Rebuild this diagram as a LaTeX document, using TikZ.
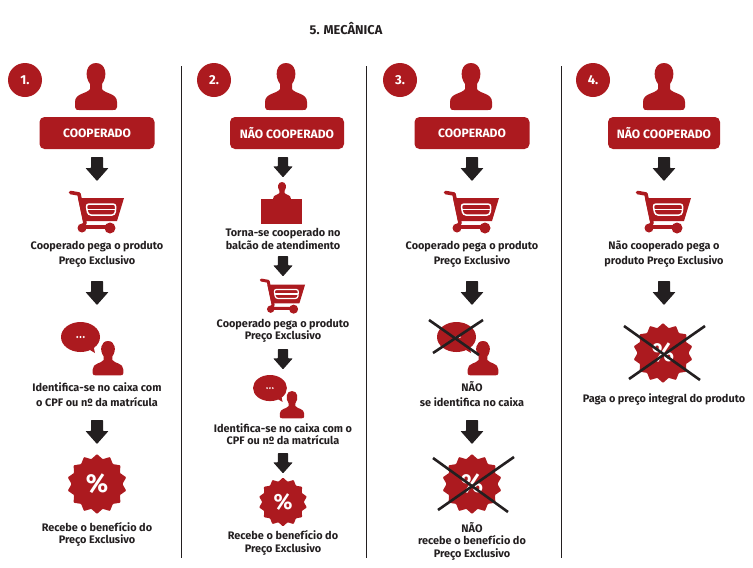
\documentclass[tikz,border=0pt]{standalone}
\usepackage{fontspec}
\setmainfont{Fira Sans}
\usetikzlibrary{shapes.geometric}
\definecolor{marsala}{HTML}{AC1A1F}
\definecolor{quaseblack}{HTML}{231F20}
\tikzset{
    legenda/.style={align=center, text=quaseblack, inner sep=0pt, font=\bfseries\fontsize{10.9}{15}\selectfont},
    legendajusta/.style={legenda, font=\bfseries\fontsize{10.9}{12.5}\selectfont},
    numero/.style={circle, fill=marsala, minimum size=34pt, inner sep=0pt, text=white, font=\bfseries\fontsize{13}{15}\selectfont},
    faixa/.style={rectangle, rounded corners=5pt, fill=marsala, text=white, minimum height=32pt, inner sep=0pt, font=\bfseries\fontsize{12.1}{14}\selectfont},
    selo/.style={star, star points=14, star point ratio=1.18, fill=marsala, text=white, inner sep=0pt, rounded corners=0.8pt, font=\bfseries\fontsize{#1}{#1}\selectfont},
    xis/.style={draw=quaseblack, line width=2.6pt},
    divisoria/.style={draw=quaseblack, line width=0.8pt},
    pics/pessoa/.style={code={
        \begin{scope}[scale=#1]
            \fill[marsala] (-6,21) .. controls (-12,13) and (-10,0) .. (0,0)
                .. controls (10,0) and (12,13) .. (6,21) -- (6,26)
                .. controls (9,31) and (21,30) .. (21,39) -- (21,44)
                .. controls (21,47) and (19,47) .. (17,47) -- (-17,47)
                .. controls (-19,47) and (-21,47) .. (-21,44) -- (-21,39)
                .. controls (-21,30) and (-9,31) .. (-6,26) -- cycle;
        \end{scope}
    }},
    pics/seta/.style={code={
        \begin{scope}[scale=#1]
            \fill[quaseblack, rounded corners=0.6pt] (-6,0) -- (6,0) -- (6,11) -- (11.5,11) -- (0,24) -- (-11.5,11) -- (-6,11) -- cycle;
        \end{scope}
    }},
    pics/carrinho/.style={code={
        \begin{scope}[scale=#1]
            \draw[marsala, line width=#1*3.6pt, line cap=round, line join=round] (1.5,2.5) -- (10,4) -- (16,33) -- (13,37) -- (41,37);
            \fill[marsala] (9,8) -- (55,8) -- (48,31) -- (14,31) -- cycle;
            \fill[marsala] (13,38) circle (4.5);
            \fill[marsala] (41,38) circle (5.5);
            \draw[white, line width=#1*1.5pt, rounded corners=#1*3pt] (17,14) -- (47,14) -- (46,25) -- (19,25) -- cycle;
            \draw[white, line width=#1*1.5pt] (18,19.5) -- (46,19.5);
        \end{scope}
    }},
    pics/balao/.style={code={
        \begin{scope}[scale=#1]
            \fill[marsala] (19.5,15) ellipse (19.5 and 15);
            \fill[marsala] (24,25) -- (34,31) -- (32,22) -- cycle;
            \foreach \ponto in {16.2,19.5,22.8} {
                \fill[white] (\ponto,15) circle (1.1);
            }
        \end{scope}
    }},
    pics/balcao/.style={code={
        \fill[marsala] (-21,17) rectangle (20,42);
        \pic at (0,0) {pessoa=0.42};
    }},
}
\begin{document}
\begin{tikzpicture}[x=1pt, y=-1pt]
    \useasboundingbox (0,0) rectangle (753,568);

    \node[font=\bfseries\fontsize{12.8}{15}\selectfont, text=quaseblack] (titulo) at (346,29) {5. MECÂNICA};

    \draw[divisoria] (181,66) -- (181,558);
    \draw[divisoria] (366,66) -- (366,558);
    \draw[divisoria] (561,66) -- (561,558);

    % coluna 1
    \node[numero] (num1) at (25,80) {1.};
    \pic at (96,63) {pessoa=1};
    \node[faixa, minimum width=115pt] (tipo1) at (97,133) {COOPERADO};
    \pic at (97,157) {seta=1};
    \pic at (69,190) {carrinho=1};
    \node[legenda] (pega1) at (97,254.5) {Cooperado pega o produto\\Preço Exclusivo};
    \pic at (97,281) {seta=1};
    \pic at (61,322) {balao=1};
    \pic at (108,341) {pessoa=0.73};
    \node[legenda] (caixa1) at (97,394.5) {Identifica-se no caixa com\\o CPF ou nº da matrícula};
    \pic at (97,420) {seta=1};
    \node[selo=26, minimum size=60pt] (selo1) at (97,484) {\%};
    \node[legendajusta] (recebe1) at (97,534.5) {Recebe o benefício do\\Preço Exclusivo};

    % coluna 2
    \node[numero] (num2) at (214,80) {2.};
    \pic at (286,63) {pessoa=1};
    \node[faixa, minimum width=114pt] (tipo2) at (287,133) {NÃO COOPERADO};
    \pic at (283,157) {seta=0.85};
    \pic at (282,182) {balcao};
    \node[legendajusta] (torna2) at (283,239) {Torna-se cooperado no\\balcão de atendimento};
    \pic at (283,256) {seta=0.85};
    \pic at (260,278) {carrinho=0.82};
    \node[legendajusta] (pega2) at (283,331) {Cooperado pega o produto\\Preço Exclusivo};
    \pic at (283,349) {seta=0.85};
    \pic at (253,375) {balao=0.87};
    \pic at (292,391) {pessoa=0.58};
    \node[legendajusta] (caixa2) at (283,434) {Identifica-se no caixa com o\\CPF ou nº da matrícula};
    \pic at (283,453) {seta=0.85};
    \node[selo=22, minimum size=49pt] (selo2) at (283,502) {\%};
    \node[legendajusta] (recebe2) at (283,543) {Recebe o benefício do\\Preço Exclusivo};

    % coluna 3
    \node[numero] (num3) at (400,80) {3.};
    \pic at (471,63) {pessoa=1};
    \node[faixa, minimum width=115pt] (tipo3) at (472,133) {COOPERADO};
    \pic at (472,157) {seta=1};
    \pic at (444,190) {carrinho=1};
    \node[legenda] (pega3) at (472,254.5) {Cooperado pega o produto\\Preço Exclusivo};
    \pic at (472,281) {seta=1};
    \pic at (437,322) {balao=1};
    \pic at (483,341) {pessoa=0.73};
    \draw[xis] (429,320) -- (479,355);
    \draw[xis] (483,320) -- (433,353);
    \node[legenda] (caixa3) at (472,394.5) {NÃO\\se identifica no caixa};
    \pic at (472,420) {seta=1};
    \node[selo=26, minimum size=60pt] (selo3) at (472,484) {\%};
    \draw[xis] (433,458) -- (508,512);
    \draw[xis] (514,457) -- (438,510);
    \node[legendajusta] (recebe3) at (472,541) {NÃO\\recebe o benefício do\\Preço Exclusivo};

    % coluna 4
    \node[numero] (num4) at (593,80) {4.};
    \pic at (664,63) {pessoa=1};
    \node[faixa, minimum width=112pt] (tipo4) at (664,133) {NÃO COOPERADO};
    \pic at (664,157) {seta=1};
    \pic at (636,190) {carrinho=1};
    \node[legenda] (pega4) at (664,254.5) {Não cooperado pega o\\produto Preço Exclusivo};
    \pic at (664,281) {seta=1};
    \node[selo=26, minimum size=60pt] (selo4) at (663,353) {\%};
    \draw[xis] (624,326) -- (700,380);
    \draw[xis] (705,326) -- (629,379);
    \node[legenda] (paga4) at (664,400) {Paga o preço integral do produto};
\end{tikzpicture}
\end{document}
